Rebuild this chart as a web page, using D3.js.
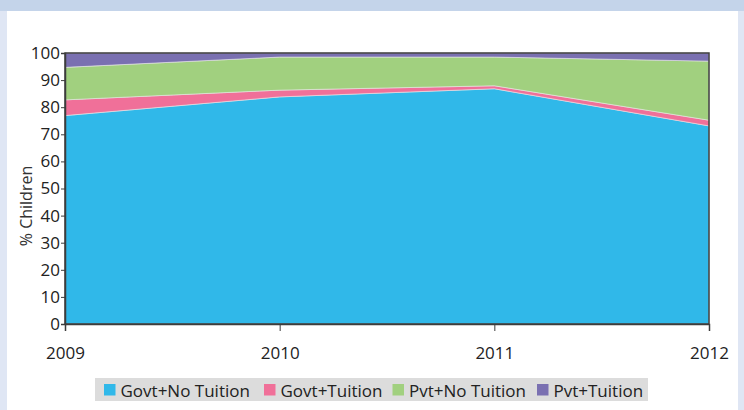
<!DOCTYPE html>
<html>
<head>
<meta charset="utf-8">
<script src="https://cdn.jsdelivr.net/npm/d3@7"></script>
<style>
  body { margin: 0; background: #dfe6f4; }
  svg { display: block; font-family: "Open Sans", sans-serif; }
</style>
</head>
<body>
<div id="content"></div>
<script>
// Data
var years = ["2009", "2010", "2011", "2012"];
var seriesNames = ["Govt+No Tuition", "Govt+Tuition", "Pvt+No Tuition", "Pvt+Tuition"];
var govtNoTuition = [76.9, 83.8, 86.8, 73.1];
var govtTuition = [5.8, 2.5, 1.1, 2.1];
var pvtNoTuition = [12.0, 12.2, 10.6, 21.8];
var pvtTuition = [5.3, 1.5, 1.5, 3.0];
var yTicks = [0, 10, 20, 30, 40, 50, 60, 70, 80, 90, 100];

var colors = ["#30b8e9", "#f07099", "#a1d07f", "#7a70b1"];
let width = 744;
let height = 410;
var margin = {top: 53, right: 35, bottom: 86, left: 65};

var rows = years.map(function(y, i) {
    return {
        year: y,
        "Govt+No Tuition": govtNoTuition[i],
        "Govt+Tuition": govtTuition[i],
        "Pvt+No Tuition": pvtNoTuition[i],
        "Pvt+Tuition": pvtTuition[i]
    };
});

var svg = d3.select("#content").append("svg")
    .attr("width", width)
    .attr("height", height);

// frame: light blue edges and white panel
svg.append("rect").attr("x", 0).attr("y", 0).attr("width", width).attr("height", height).attr("fill", "#dfe6f4");
svg.append("rect").attr("x", 7).attr("y", 0).attr("width", 731).attr("height", height).attr("fill", "#ffffff");
svg.append("rect").attr("x", 0).attr("y", 0).attr("width", width).attr("height", 11).attr("fill", "#c4d4ea");

var innerH = height - margin.top - margin.bottom;

var g = svg.append("g")
    .attr("transform", "translate(" + margin.left + "," + margin.top + ")");

var xScale = d3.scalePoint().domain(years).range([0, 644]);
var yScale = d3.scaleLinear().domain([0, 100]).range([271, 0]);

var stack = d3.stack().keys(seriesNames);
var layers = stack(rows);

var area = d3.area()
    .x(function(d) { return xScale(d.data.year); })
    .y0(function(d) { return yScale(d[0]); })
    .y1(function(d) { return yScale(d[1]); });

g.selectAll("path.layer")
    .data(layers)
    .enter().append("path")
    .attr("class", "layer")
    .attr("d", area)
    .attr("fill", function(d, i) { return colors[i]; })
    .attr("stroke", "#e8e8e8")
    .attr("stroke-width", 0.6);

// frame around plot
g.append("rect")
    .attr("x", 0).attr("y", 0)
    .attr("width", 644).attr("height", 271)
    .attr("fill", "none")
    .attr("stroke", "#3c3c3c")
    .attr("stroke-width", 1.5);

var yAxis = d3.axisLeft(yScale).tickValues(yTicks).tickSize(4).tickPadding(1);
var yg = g.append("g").call(yAxis);
yg.select(".domain").attr("stroke", "#3c3c3c").attr("stroke-width", 1.5);
yg.selectAll(".tick line").attr("stroke", "#3c3c3c");
yg.selectAll(".tick text").attr("fill", "#222").style("font-size", "17px").style("font-family", "Open Sans, sans-serif");

var xAxis = d3.axisBottom(xScale).tickSize(7).tickPadding(16);
var xg = g.append("g").attr("transform", "translate(0,271)").call(xAxis);
xg.select(".domain").attr("stroke", "#3c3c3c").attr("stroke-width", 1.5);
xg.selectAll(".tick line").attr("stroke", "#3c3c3c");
xg.selectAll(".tick text").attr("fill", "#222").style("font-size", "17px").style("font-family", "Open Sans, sans-serif");

svg.append("text")
    .attr("transform", "translate(26," + 206 + ") rotate(-90)")
    .style("text-anchor", "middle")
    .attr("dy", "0.35em")
    .style("font-size", "16px")
    .attr("fill", "#333")
    .text("% Children");

// legend
var legend = svg.append("g");
legend.append("rect")
    .attr("x", 95).attr("y", 378)
    .attr("width", 553).attr("height", 23)
    .attr("fill", "#dcdcdc");

var legX = [104, 264, 392.5, 537];
var items = legend.selectAll("g.item")
    .data(seriesNames)
    .enter().append("g")
    .attr("class", "item")
    .attr("transform", function(d, i) { return "translate(" + legX[i] + ",384)"; });

items.append("rect")
    .attr("width", 11.5).attr("height", 11.5)
    .attr("fill", function(d, i) { return colors[i]; });

items.append("text")
    .attr("x", 16.5)
    .attr("y", 12.5)
    .style("font-size", "17px")
    .attr("fill", "#222")
    .text(function(d) { return d; });
</script>
</body>
</html>
